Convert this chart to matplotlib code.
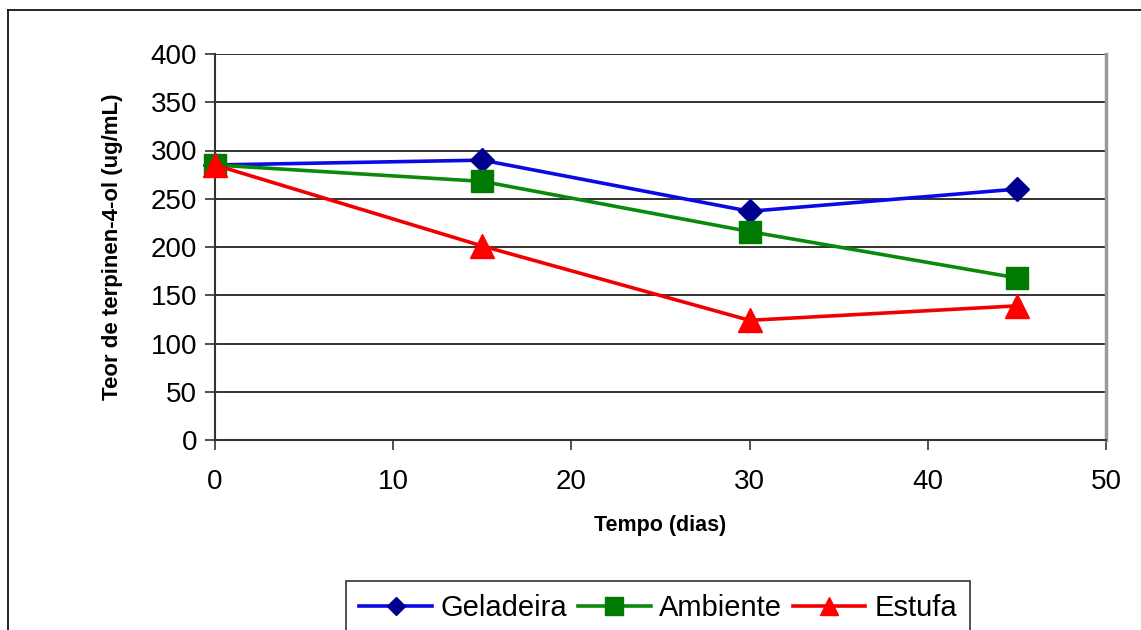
import matplotlib
matplotlib.use("Agg")
import matplotlib.pyplot as plt
from matplotlib.lines import Line2D

plt.rcParams['font.family'] = ['Liberation Sans', 'DejaVu Sans']

# dados
dias = [0, 15, 30, 45]
geladeira = [285, 290, 237, 260]
ambiente = [285, 268, 216, 168]
estufa = [285, 201, 124, 139]

yticks = [0, 50, 100, 150, 200, 250, 300, 350, 400]
xticks = [0, 10, 20, 30, 40, 50]

fig = plt.figure(figsize=(11.41, 6.3), dpi=100)
ax = fig.add_axes([215 / 1141, 1 - 440 / 630, (1106 - 215) / 1141, (440 - 54) / 630])

ax.plot(dias, geladeira, color='#0a0ae6', lw=2.6, marker='D', ms=12,
        mfc='#000090', mec='#000090', label='Geladeira', clip_on=False, zorder=3)
ax.plot(dias, ambiente, color='#0a8a0a', lw=2.6, marker='s', ms=16,
        mfc='#007a00', mec='#007a00', label='Ambiente', clip_on=False, zorder=3)
ax.plot(dias, estufa, color='#f00000', lw=2.6, marker='^', ms=17,
        mfc='#ff0000', mec='#ff0000', label='Estufa', clip_on=False, zorder=4)

ax.set_xlim(0, 50)
ax.set_ylim(0, 400)
ax.set_xticks(xticks)
ax.set_yticks(yticks)
ax.tick_params(axis='both', labelsize=20, length=7, width=1.2, color='#333333', direction='out')
ax.tick_params(axis='x', pad=14)
ax.tick_params(axis='y', pad=6)

ax.yaxis.grid(True, color='#222222', lw=1.3)
ax.set_axisbelow(True)
ax.spines['top'].set_visible(False)
ax.spines['left'].set_color('#333333')
ax.spines['left'].set_linewidth(1.5)
ax.spines['bottom'].set_color('#333333')
ax.spines['bottom'].set_linewidth(1.5)
ax.spines['right'].set_color('#999999')
ax.spines['right'].set_linewidth(2.5)

ax.set_xlabel('Tempo (dias)', fontsize=15.5, fontweight='bold', labelpad=14)
ax.set_ylabel('Teor de terpinen-4-ol (ug/mL)', fontsize=16, fontweight='bold', labelpad=20)

leg = fig.legend(loc='upper left', bbox_to_anchor=(346 / 1141, 1 - 581 / 630), ncol=3,
                 fontsize=21, frameon=True, fancybox=False, edgecolor='black',
                 handlelength=2.5, columnspacing=0.35, handletextpad=0.3,
                 borderpad=0.45, borderaxespad=0, markerscale=0.8)
leg.get_frame().set_linewidth(1.2)

# moldura externa
fig.add_artist(Line2D([8 / 1141, 1.0], [1 - 10 / 630, 1 - 10 / 630], transform=fig.transFigure, color='black', lw=1.2))
fig.add_artist(Line2D([8 / 1141, 8 / 1141], [1 - 10 / 630, 0.0], transform=fig.transFigure, color='black', lw=1.2))

fig.savefig('out.png', dpi=100)
